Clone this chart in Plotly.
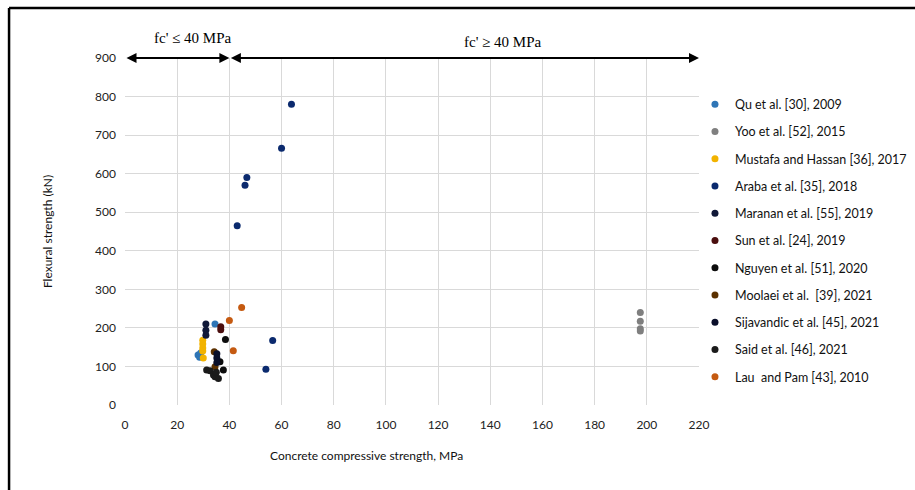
import plotly.graph_objects as go

series_names = [
    "Qu et al. [30], 2009",
    "Yoo et al. [52], 2015",
    "Mustafa and Hassan [36], 2017",
    "Araba et al. [35], 2018",
    "Maranan et al. [55], 2019",
    "Sun et al. [24], 2019",
    "Nguyen et al. [51], 2020",
    "Moolaei et al.  [39], 2021",
    "Sijavandic et al. [45], 2021",
    "Said et al. [46], 2021",
    "Lau  and Pam [43], 2010",
]
series_colors = ["#2E75B6", "#7F7F7F", "#F2B300", "#0B2A6E", "#101838",
                 "#4A0E0E", "#0D0D0D", "#5B3000", "#0A0F2A", "#1A1A1A", "#C55A11"]

qu_x = [28.0, 28.6, 29.0, 34.5]
qu_y = [130, 124, 135, 210]
yoo_x = [197.5, 197.5, 197.5, 197.5]
yoo_y = [240, 217, 198, 192]
mustafa_x = [29.8, 29.8, 29.8, 29.8, 30.0]
mustafa_y = [168, 158, 148, 140, 122]
araba_x = [43.0, 46.0, 46.7, 60.0, 63.8, 54.0, 56.6]
araba_y = [465, 570, 590, 666, 780, 93, 167]
maranan_x = [31.0, 31.0, 31.0]
maranan_y = [210, 194, 181]
sun_x = [36.7, 36.7]
sun_y = [203, 195]
nguyen_x = [38.5, 37.7, 36.4]
nguyen_y = [170, 91, 112]
moolaei_x = [34.2, 34.5]
moolaei_y = [138, 99]
sijavandic_x = [35.2, 35.2, 35.2]
sijavandic_y = [133, 122, 110]
said_x = [31.3, 32.6, 33.9, 34.5, 35.8, 35.0]
said_y = [91, 89, 78, 73, 69, 85]
lau_x = [44.7, 40.0, 41.5]
lau_y = [253, 219, 141]

xs = [qu_x, yoo_x, mustafa_x, araba_x, maranan_x, sun_x, nguyen_x, moolaei_x, sijavandic_x, said_x, lau_x]
ys = [qu_y, yoo_y, mustafa_y, araba_y, maranan_y, sun_y, nguyen_y, moolaei_y, sijavandic_y, said_y, lau_y]

x_ticks = list(range(0, 221, 20))
y_ticks = list(range(0, 901, 100))
split_value = 40
x_max = 220
y_max = 900

fig = go.Figure()
for name, color, x, y in zip(series_names, series_colors, xs, ys):
    fig.add_trace(go.Scatter(
        x=x, y=y, mode="markers", name=name, legendgroup=name,
        marker=dict(size=7, color=color, line=dict(width=0)),
    ))

font_fam = "Lato, 'Noto Sans', sans-serif"
fig.update_layout(
    width=915, height=490,
    margin=dict(l=125, r=216, t=58, b=85, autoexpand=False),
    paper_bgcolor="white", plot_bgcolor="white",
    font=dict(family=font_fam, size=12, color="#222222"),
    showlegend=True,
    legend=dict(x=0.993, y=0.909, xanchor="left", yanchor="top",
                font=dict(family=font_fam, size=12.5, color="#111111"),
                tracegroupgap=8, itemwidth=30, bgcolor="rgba(0,0,0,0)"),
    xaxis=dict(range=[0, x_max], tickvals=x_ticks, showgrid=True, gridcolor="#D9D9D9",
               gridwidth=1, zeroline=False, showline=False, ticks="",
               ticklabelstandoff=11,
               tickfont=dict(family=font_fam, size=12, color="#222222")),
    yaxis=dict(range=[0, y_max], tickvals=y_ticks, showgrid=True, gridcolor="#D9D9D9",
               gridwidth=1, zeroline=False, showline=False, ticks="",
               ticklabelstandoff=8,
               tickfont=dict(family=font_fam, size=12, color="#222222"),
               title=dict(text="Flexural strength (kN)", standoff=39,
                          font=dict(family=font_fam, size=12, color="#111111"))),
)

fig.add_annotation(x=0.42, y=0, xref="paper", yref="paper", yshift=-60,
                   text="Concrete compressive strength, MPa", showarrow=False,
                   font=dict(family=font_fam, size=12, color="#111111"))

# double-headed arrows along the top
for x0, x1 in [(0, split_value), (split_value, x_max)]:
    fig.add_annotation(x=x1, y=y_max, ax=x0, ay=y_max, xref="x", yref="y",
                       axref="x", ayref="y", text="", showarrow=True,
                       arrowhead=2, startarrowhead=2, arrowside="end+start",
                       arrowsize=1, arrowwidth=2, arrowcolor="black")

fig.add_annotation(x=26, y=y_max, xref="x", yref="y", yshift=20,
                   text="fc' \u2264 40 MPa", showarrow=False,
                   font=dict(family="Liberation Serif, serif", size=15, color="black"))
fig.add_annotation(x=145, y=y_max, xref="x", yref="y", yshift=16,
                   text="fc' \u2265 40 MPa", showarrow=False,
                   font=dict(family="Liberation Serif, serif", size=15, color="black"))

# outer frame (top and left edges)
fig.add_shape(type="line", xref="paper", yref="paper", x0=-0.202, x1=1.5, y0=1.144, y1=1.144,
              line=dict(color="black", width=2.5))
fig.add_shape(type="line", xref="paper", yref="paper", x0=-0.202, x1=-0.202, y0=1.144, y1=-0.3,
              line=dict(color="black", width=2.5))

fig.write_html("out.html")
